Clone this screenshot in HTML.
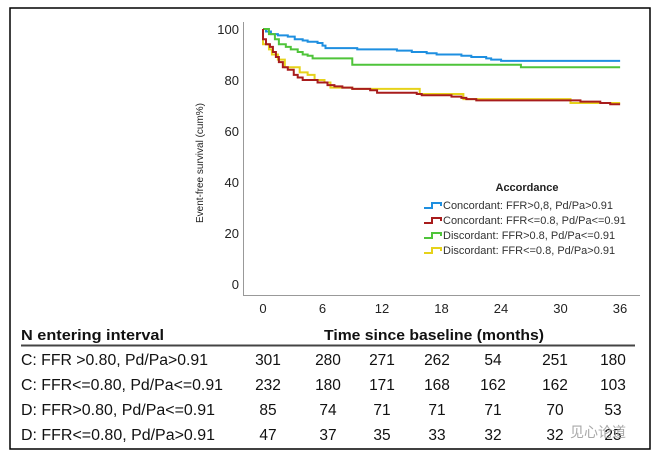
<!DOCTYPE html>
<html><head><meta charset="utf-8"><style>
html,body{margin:0;padding:0;background:#fff}
svg{display:block}
</style></head><body>
<svg width="660" height="455" viewBox="0 0 660 455" xmlns="http://www.w3.org/2000/svg" font-family="Liberation Sans, sans-serif">
<rect x="10" y="8" width="640" height="441" fill="#fff" stroke="#000" stroke-width="1.5"/>
<line x1="243.5" y1="22" x2="243.5" y2="295" stroke="#999" stroke-width="1"/>
<line x1="243" y1="295.5" x2="640" y2="295.5" stroke="#999" stroke-width="1"/>
<g font-size="13" fill="#222" text-anchor="end">
<text x="239" y="34">100</text><text x="239" y="85">80</text><text x="239" y="136">60</text>
<text x="239" y="187">40</text><text x="239" y="238">20</text><text x="239" y="289">0</text>
</g>
<g font-size="13" fill="#222" text-anchor="middle">
<text x="263" y="313">0</text><text x="322.5" y="313">6</text><text x="382" y="313">12</text>
<text x="441.5" y="313">18</text><text x="501" y="313">24</text><text x="560.5" y="313">30</text><text x="620" y="313">36</text>
</g>
<text transform="translate(203,163) rotate(-90)" font-size="10" text-anchor="middle" fill="#222">Event-free survival (cum%)</text>
<g transform="translate(263,284) scale(9.92,-2.55)" fill="none" stroke-width="2">
<path vector-effect="non-scaling-stroke" stroke="#1e8fe0" d="M0,100 H0.3 V99 H0.8 V98 H1.5 V97.5 H2.5 V97 H3.2 V96 H4 V95.5 H4.5 V95 H5.5 V94.5 H6 V93.5 H6.3 V92.5 H9.5 V92 H13.5 V91.5 H15 V91 H16.5 V90.5 H17.5 V90 H20 V89.5 H21 V89 H22.5 V88.5 H23 V88 H24 V87.5 H36"/>
<path vector-effect="non-scaling-stroke" stroke="#4fc43a" d="M0,100 H0.6 V98 H1.2 V96 H1.6 V94 H2.3 V93 H2.8 V92 H3.5 V91 H4 V90 H4.5 V89.5 H5 V88.5 H9 V86 H26 V85 H36"/>
<path vector-effect="non-scaling-stroke" stroke="#e6d21a" d="M0,100 V94 H0.6 V92 H0.9 V90 H1.5 V88 H2.2 V85 H3.7 V83 H4.5 V82 H5.2 V80 H6.2 V79 H6.8 V77 H9 V76.5 H15.8 V74.5 H20.2 V72.5 H31 V71 H36"/>
<path vector-effect="non-scaling-stroke" stroke="#a81c1c" d="M0,100 V96 H0.3 V94 H0.7 V93 H1 V91 H1.3 V89 H1.6 V87 H2 V85 H2.5 V84 H3.1 V82 H3.5 V81 H4 V80 H5.5 V79 H6.5 V78 H7.2 V77.5 H8 V77 H9 V76.5 H10.8 V76 H11.5 V75 H15.5 V74.5 H16 V74 H19 V73.5 H20 V73 H20.5 V72.5 H21.5 V72 H32 V71.5 H34 V71 H35 V70.5 H36"/>
</g>
<text x="527" y="191" font-size="11" font-weight="bold" text-anchor="middle" fill="#222">Accordance</text>
<g fill="none" stroke-width="2">
<path d="M424,208 H432 V203 H441 V206" stroke="#1e8fe0"/>
<path d="M424,223 H432 V218 H441 V221" stroke="#a81c1c"/>
<path d="M424,238 H432 V233 H441 V236" stroke="#4fc43a"/>
<path d="M424,253 H432 V248 H441 V251" stroke="#e6d21a"/>
</g>
<g font-size="11" fill="#333">
<text x="443" y="209">Concordant: FFR&gt;0,8, Pd/Pa&gt;0.91</text>
<text x="443" y="224">Concordant: FFR&lt;=0.8, Pd/Pa&lt;=0.91</text>
<text x="443" y="239">Discordant: FFR&gt;0.8, Pd/Pa&lt;=0.91</text>
<text x="443" y="254">Discordant: FFR&lt;=0.8, Pd/Pa&gt;0.91</text>
</g>
<g font-size="15" font-weight="bold" fill="#111">
<text x="21" y="340" textLength="143" lengthAdjust="spacingAndGlyphs">N entering interval</text>
<text x="324" y="340" textLength="220" lengthAdjust="spacingAndGlyphs">Time since baseline (months)</text>
</g>
<line x1="21" y1="345.5" x2="635" y2="345.5" stroke="#444" stroke-width="2"/>
<g font-size="15.5" fill="#111">
<text x="21" y="365" textLength="187" lengthAdjust="spacingAndGlyphs">C: FFR &gt;0.80, Pd/Pa&gt;0.91</text>
<text x="21" y="390" textLength="202" lengthAdjust="spacingAndGlyphs">C: FFR&lt;=0.80, Pd/Pa&lt;=0.91</text>
<text x="21" y="415" textLength="194" lengthAdjust="spacingAndGlyphs">D: FFR&gt;0.80, Pd/Pa&lt;=0.91</text>
<text x="21" y="440" textLength="194" lengthAdjust="spacingAndGlyphs">D: FFR&lt;=0.80, Pd/Pa&gt;0.91</text>
</g>
<g font-size="15.5" fill="#111" text-anchor="middle">
<text x="268" y="365">301</text><text x="328" y="365">280</text><text x="382" y="365">271</text><text x="437" y="365">262</text><text x="493" y="365">54</text><text x="555" y="365">251</text><text x="613" y="365">180</text>
<text x="268" y="390">232</text><text x="328" y="390">180</text><text x="382" y="390">171</text><text x="437" y="390">168</text><text x="493" y="390">162</text><text x="555" y="390">162</text><text x="613" y="390">103</text>
<text x="268" y="415">85</text><text x="328" y="415">74</text><text x="382" y="415">71</text><text x="437" y="415">71</text><text x="493" y="415">71</text><text x="555" y="415">70</text><text x="613" y="415">53</text>
<text x="268" y="440">47</text><text x="328" y="440">37</text><text x="382" y="440">35</text><text x="437" y="440">33</text><text x="493" y="440">32</text><text x="555" y="440">32</text><text x="613" y="440">25</text>
</g>
<text x="570" y="437" font-size="14" fill="#999" font-family="Liberation Sans, Noto Sans CJK SC, sans-serif" opacity="0.85">见心论道</text>
</svg>
</body></html>
